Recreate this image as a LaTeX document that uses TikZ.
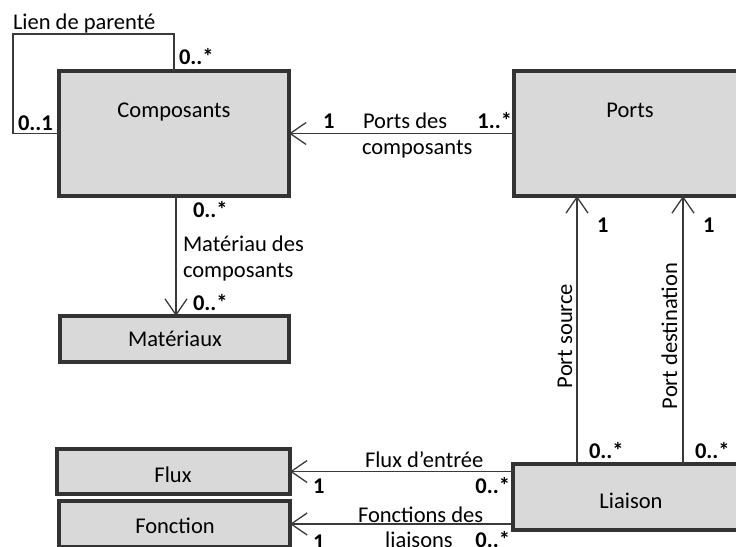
\documentclass[tikz,border=0pt]{standalone}
\usepackage{fontspec}
\setmainfont{Carlito}
\usetikzlibrary{arrows.meta}
\definecolor{boxfill}{HTML}{D9D9D9}
\definecolor{boxline}{HTML}{333333}
\definecolor{conline}{HTML}{3A3A3A}
\begin{document}
\begin{tikzpicture}[x=1pt,y=-1pt,
  every node/.style={inner sep=0pt,outer sep=0pt},
  umlbox/.style={draw=boxline,line width=3.5pt,fill=boxfill,rectangle},
  txt/.style={font=\fontsize{22.5}{26}\selectfont,text=black},
  mult/.style={font=\fontsize{22.5}{26}\selectfont\bfseries,text=black},
  conn/.style={draw=conline,line width=1.3pt},
  arr/.style={conn,-{Straight Barb[length=16pt,width=22pt,line width=1.3pt]}}]
\useasboundingbox (0,0) rectangle (736,546);
\begin{scope}
\clip (0,0) rectangle (736,546);
% boxes
\node[umlbox,minimum width=230pt,minimum height=125pt] (comp) at (174,133.5) {};
\node[umlbox,minimum width=232pt,minimum height=125pt] (ports) at (630,133.5) {};
\node[umlbox,minimum width=229pt,minimum height=46pt] (mat) at (174.5,339) {};
\node[umlbox,minimum width=233pt,minimum height=45pt] (flux) at (173.5,471.5) {};
\node[umlbox,minimum width=231pt,minimum height=46pt] (fonc) at (174.5,524) {};
\node[umlbox,minimum width=237pt,minimum height=66pt] (liai) at (631.5,497) {};
% box texts
\node[txt,anchor=base] (compT) at (174,117) {Composants};
\node[txt,anchor=base] (portsT) at (630,117) {Ports};
\node[txt,anchor=base] (matT) at (175,346) {Matériaux};
\node[txt,anchor=base] (fluxT) at (173,482) {Flux};
\node[txt,anchor=base] (foncT) at (175,533) {Fonction};
\node[txt,anchor=base] (liaiT) at (631,508) {Liaison};
% self loop
\coordinate (lpA) at (13,34);
\draw[conn] (comp.north) |- (lpA) |- (comp.west);
\node[txt,anchor=base west] (lpT) at (13,29) {Lien de parenté};
\node[mult,anchor=base west] (lpM1) at (179,64) {0..*};
\node[mult,anchor=base west] (lpM2) at (18,130) {0..1};
% Ports des composants
\draw[arr] (ports.west) -- (comp.east);
\node[mult,anchor=base west] (pcM1) at (323,128) {1};
\node[txt,anchor=base west] (pcT1) at (363,128) {Ports des};
\node[txt,anchor=base west] (pcT2) at (362,154) {composants};
\node[mult,anchor=base east] (pcM2) at (512,128) {1..*};
% Materiau des composants
\draw[arr] (comp.south -| 176,0) -- (mat.north -| 176,0);
\node[mult,anchor=base west] (mcM1) at (193,217) {0..*};
\node[txt,anchor=base west] (mcT1) at (183,251) {Matériau des};
\node[txt,anchor=base west] (mcT2) at (183,277) {composants};
\node[mult,anchor=base west] (mcM2) at (193,310) {0..*};
% Port source / destination
\coordinate (xs) at (577,0);
\coordinate (xd) at (683,0);
\draw[arr] (liai.north -| xs) -- (ports.south -| xs);
\draw[arr] (liai.north -| xd) -- (ports.south -| xd);
\node[mult,anchor=base west] (psM1) at (597,232) {1};
\node[mult,anchor=base west] (pdM1) at (703,232) {1};
\node[txt,anchor=base,rotate=90] (psT) at (572,336) {Port source};
\node[txt,anchor=base,rotate=90] (pdT) at (677,336) {Port destination};
\node[mult,anchor=base west] (psM2) at (589,458) {0..*};
\node[mult,anchor=base west] (pdM2) at (695,458) {0..*};
% Flux d'entree
\draw[arr] (flux.east -| liai.west) -- (flux.east);
\node[txt,anchor=base west] (feT) at (365,467) {Flux d’entrée};
\node[mult,anchor=base west] (feM1) at (313,493) {1};
\node[mult,anchor=base east] (feM2) at (510,493) {0..*};
% Fonctions des liaisons
\draw[arr] (fonc.east -| liai.west) -- (fonc.east);
\node[txt,anchor=base west] (flT1) at (358,522) {Fonctions des};
\node[txt,anchor=base] (flT2) at (419,547) {liaisons};
\node[mult,anchor=base west] (flM1) at (313,549) {1};
\node[mult,anchor=base east] (flM2) at (510,547) {0..*};
\end{scope}
\end{tikzpicture}
\end{document}
